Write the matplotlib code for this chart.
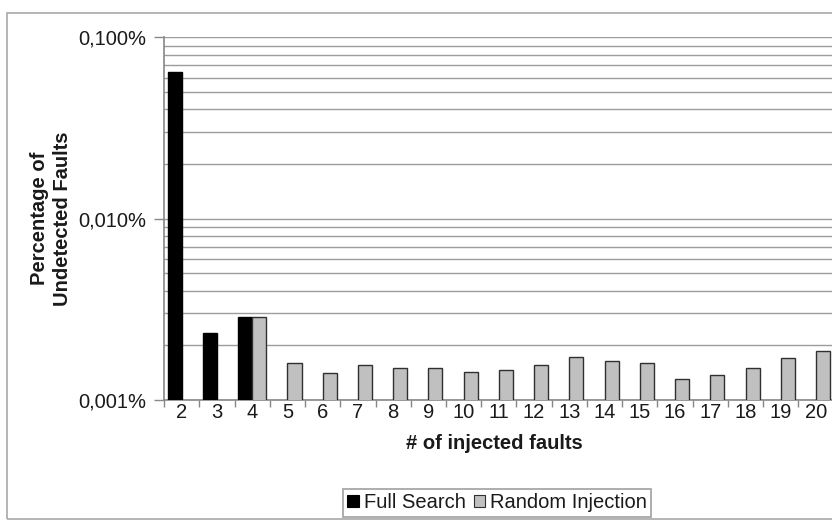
import numpy as np
import matplotlib.pyplot as plt
from matplotlib.patches import Patch, Rectangle
from matplotlib.ticker import FixedLocator, NullFormatter

plt.rcParams['font.family'] = ['Liberation Sans', 'DejaVu Sans']

# number of injected faults
faults = [2, 3, 4, 5, 6, 7, 8, 9, 10, 11, 12, 13, 14, 15, 16, 17, 18, 19, 20]
# percentage of undetected faults (full search only done up to 4 faults)
full_search = [0.0644, 0.00234, 0.00288]
random_injection = [np.nan, np.nan, 0.00288, 0.00159, 0.00140, 0.00156, 0.00150,
                    0.00150, 0.00142, 0.00146, 0.00155, 0.00173, 0.00164, 0.00159,
                    0.00131, 0.00138, 0.00151, 0.00170, 0.00186]
ytick_vals = [0.001, 0.01, 0.1]
ytick_labels = ['0,001%', '0,010%', '0,100%']

txt = '#1a1a1a'
grid_c = '#9c9c9c'
fs = 14.5

fig = plt.figure(figsize=(8.32, 5.2), dpi=100)
W, H = 832, 520
ax = fig.add_axes([164.1 / W, 120 / H, 669.5 / W, 362.7 / H])

# outer chart frame
fig.patches.append(Rectangle((7.5 / W, 1.0 / H), 1.0, (519 - 12.5) / H,
                             transform=fig.transFigure, fill=False,
                             edgecolor='#a8a8a8', lw=1.2))

x = np.arange(len(faults))
bw = 0.4
ax.bar(x[:len(full_search)] - bw / 2, full_search, width=bw,
       color='black', edgecolor='black', lw=1.0, zorder=3)
ax.bar(x + bw / 2, random_injection, width=bw,
       color='#c0c0c0', edgecolor='#303030', lw=1.0, zorder=3)

ax.set_yscale('log')
ax.set_ylim(0.001, 0.1)
ax.set_xlim(-0.5, len(faults) - 0.5)

ax.yaxis.set_major_locator(FixedLocator(ytick_vals))
ax.set_yticklabels(ytick_labels)
ax.yaxis.set_minor_formatter(NullFormatter())
ax.tick_params(axis='y', which='major', length=7, width=1, color='#888888',
               pad=6, labelsize=fs, labelcolor=txt)
ax.tick_params(axis='y', which='minor', length=0)
ax.grid(axis='y', which='both', color=grid_c, lw=1.0, zorder=0)

# ticks between categories, labels at category centres
ax.set_xticks(np.arange(len(faults) + 1) - 0.5)
ax.set_xticklabels([])
ax.set_xticks(x, minor=True)
ax.set_xticklabels([str(f) for f in faults], minor=True)
ax.tick_params(axis='x', which='major', length=5, width=1, color='#888888')
ax.tick_params(axis='x', which='minor', length=0, pad=2.5, labelsize=fs,
               labelcolor=txt)

for s in ['top', 'right']:
    ax.spines[s].set_visible(False)
for s in ['left', 'bottom']:
    ax.spines[s].set_color('#888888')
    ax.spines[s].set_linewidth(1.2)

ax.set_xlabel('# of injected faults', fontsize=fs, fontweight='bold', color=txt)
ax.xaxis.set_label_coords(0.494, -0.093)

fig.text(51 / W, 1 - 218.5 / H, 'Percentage of\nUndetected Faults',
         rotation=90, ha='center', va='center', multialignment='center',
         fontsize=fs, fontweight='bold', color=txt)

handles = [Patch(facecolor='black', edgecolor='black', lw=0.8),
           Patch(facecolor='#c0c0c0', edgecolor='#303030', lw=0.8)]
leg = fig.legend(handles, ['Full Search', 'Random Injection'], ncol=2,
                 loc='center', bbox_to_anchor=(497 / W, 1 - 503 / H),
                 bbox_transform=fig.transFigure, fontsize=fs,
                 handlelength=0.55, handleheight=0.55, handletextpad=0.25,
                 columnspacing=0.4, borderpad=0.2, fancybox=False,
                 framealpha=1, edgecolor='#a0a0a0')
leg.get_frame().set_linewidth(1.2)
for t in leg.get_texts():
    t.set_color(txt)

fig.savefig('out.png', dpi=100)
